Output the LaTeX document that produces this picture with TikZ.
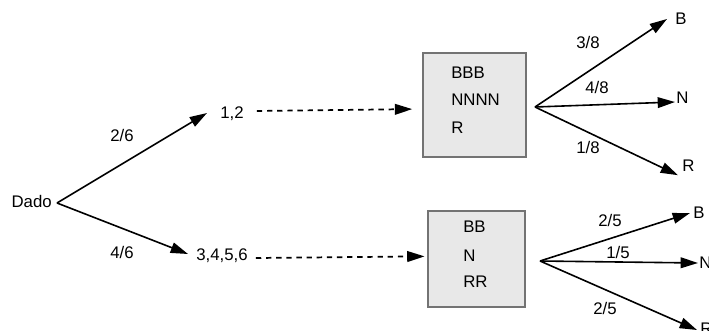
\documentclass[tikz,border=0pt]{standalone}
\usepackage{fontspec}
\setmainfont{Liberation Sans}
\usetikzlibrary{arrows.meta}
\tikzset{
  txt/.style={inner sep=0pt, text height=9pt, text depth=0pt, font=\fontsize{12.6}{15}\selectfont},
  arr/.style={line width=1.2pt, -{Triangle[length=13pt,width=8pt]}},
  dsh/.style={line width=1.3pt, dash pattern=on 4pt off 3.6pt, -{Triangle[length=13pt,width=8pt]}},
  urn/.style={draw=black!55, fill=black!9, line width=1.2pt, inner sep=0pt}
}
\begin{document}
\begin{tikzpicture}[x=0.75pt,y=-0.75pt]
\useasboundingbox (0,0) rectangle (709,331);
% root
\node[txt, anchor=east] (dado) at (52,202) {Dado};
\coordinate (d0) at (57,203);
% first level
\node[txt, anchor=west, inner xsep=9.75pt] (n12) at (207,113) {1,2};
\node[txt, anchor=west, inner xsep=6pt] (n3456) at (188,254) {3,4,5,6};
\draw[arr] (d0) -- (n12.west);
\draw[arr] (d0) -- (n3456.west);
\node[txt] (p26) at (122,136) {2/6};
\node[txt] (p46) at (122,252) {4/6};
% urns
\node[urn, minimum width=77.25pt, minimum height=78pt] (box1) at (474.5,105) {};
\node[urn, minimum width=72.75pt, minimum height=72pt] (box2) at (476.5,259) {};
\node[txt, anchor=west] (t1a) at (451,73) {BBB};
\node[txt, anchor=west] (t1b) at (451,100) {NNNN};
\node[txt, anchor=west] (t1c) at (451,128) {R};
\node[txt, anchor=west] (t2a) at (463,227) {BB};
\node[txt, anchor=west] (t2b) at (463,255) {N};
\node[txt, anchor=west] (t2c) at (463,281) {RR};
\draw[dsh, shorten >=7.5pt] ([yshift=1.5pt]n12.east) -- ([yshift=-3pt]box1.west);
\draw[dsh, shorten >=2pt] ([yshift=-3pt]n3456.east) -- ([yshift=2pt]box2.west);
% upper fan
\coordinate (f1) at (535,107);
\node[txt, anchor=west] (b1) at (675,19) {B};
\node[txt, anchor=west] (nn1) at (676,98) {N};
\node[txt, anchor=west] (r1) at (682,166) {R};
\draw[arr] (f1) -- ([xshift=-6pt]b1.west);
\draw[arr] (f1) -- ([xshift=-0.75pt,yshift=-3pt]nn1.west);
\draw[arr] (f1) -- ([xshift=-3pt,yshift=-2.2pt]r1.south west);
\node[txt] (p38) at (588,43) {3/8};
\node[txt] (p48) at (597,88) {4/8};
\node[txt] (p18) at (588,148) {1/8};
% lower fan
\coordinate (f2) at (540,261);
\node[txt, anchor=west] (b2) at (693,213) {B};
\node[txt, anchor=west] (nn2) at (699,262) {N};
\node[txt, anchor=west] (r2) at (700,328) {R};
\draw[arr] (f2) -- ([xshift=-2.25pt]b2.west);
\draw[arr] (f2) -- ([xshift=-0.75pt,yshift=-0.75pt]nn2.west);
\draw[arr] (f2) -- ([xshift=-2.25pt,yshift=-1.5pt]r2.west);
\node[txt] (p25a) at (610,220) {2/5};
\node[txt] (p15) at (618,252) {1/5};
\node[txt] (p25b) at (605,308) {2/5};
\end{tikzpicture}
\end{document}
